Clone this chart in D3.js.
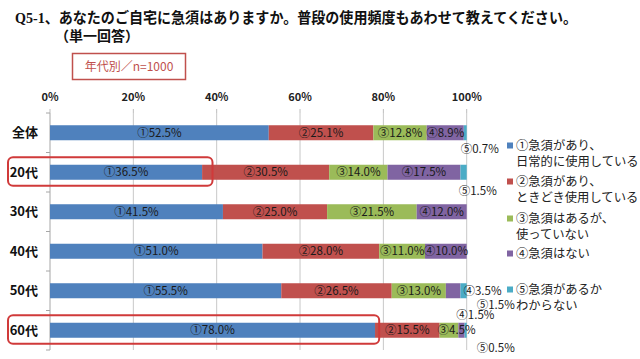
<!DOCTYPE html>
<html><head><meta charset="utf-8">
<script src="https://cdn.jsdelivr.net/npm/d3@7"></script>
<style>
html,body{margin:0;padding:0;background:#fff;}
svg{display:block;}
text{font-family:"Noto Sans CJK JP","Noto Sans",sans-serif;}
</style></head>
<body>
<svg id="chart" width="640" height="359"></svg>
<script>
// ---- data ----
const categories = ["全体", "20代", "30代", "40代", "50代", "60代"];
const seriesNames = ["①急須があり、\n日常的に使用している", "②急須があり、\nときどき使用している", "③急須はあるが、\n使っていない", "④急須はない", "⑤急須があるか\nわからない"];
const seriesMarks = ["①", "②", "③", "④", "⑤"];
const s1 = [52.5, 36.5, 41.5, 51.0, 55.5, 78.0];
const s2 = [25.1, 30.5, 25.0, 28.0, 26.5, 15.5];
const s3 = [12.8, 14.0, 21.5, 11.0, 13.0, 4.5];
const s4 = [8.9, 17.5, 12.0, 10.0, 3.5, 1.5];
const s5 = [0.7, 1.5, 0, 0, 1.5, 0.5];
const tickValues = [0, 20, 40, 60, 80, 100];
const highlighted = ["20代", "60代"];
const titleLine1 = "Q5-1、あなたのご自宅に急須はありますか。普段の使用頻度もあわせて教えてください。";
const titleLine2 = "（単一回答）";
const noteText = "年代別／n=1000";

// ---- style / layout ----
const colors = ["#4F81BD", "#C0504D", "#9BBB59", "#8064A2", "#4BACC6"];
const series = [s1, s2, s3, s4, s5];
// placement of labels that do not fit inside their segment
const labelPlacement = {
  "全体|4": {anchor: "start", xRef: "end", dx: -6, yRef: "bottom", dy: 9},
  "20代|4": {anchor: "start", xRef: "end", dx: -8, yRef: "bottom", dy: 11},
  "50代|3": {anchor: "start", xRef: "end", dx: 3, yRef: "mid", dy: 0},
  "50代|4": {anchor: "start", xRef: "end", dx: 10, yRef: "bottom", dy: 7},
  "60代|2": {anchor: "start", xRef: "start", dx: -2, yRef: "mid", dy: 0},
  "60代|3": {anchor: "start", xRef: "start", dx: -2, yRef: "top", dy: -8},
  "60代|4": {anchor: "start", xRef: "end", dx: 10, yRef: "bottom", dy: 10}
};
const highlightRight = {"20代": 39, "60代": 79};

const svg = d3.select("#chart");
const x = d3.scaleLinear().domain([0, 100]).range([50, 466.7]);
const y = d3.scaleBand().domain(categories).range([113, 350]).paddingInner(0.62).paddingOuter(0.31);

// title
svg.append("text").attr("x", 15).attr("y", 23)
  .attr("font-size", 15).attr("font-weight", "bold").attr("fill", "#111")
  .style("font-family", "'Liberation Serif','Noto Sans CJK JP',serif")
  .attr("textLength", 562).attr("lengthAdjust", "spacingAndGlyphs")
  .text(titleLine1);
svg.append("text").attr("x", 55).attr("y", 41)
  .attr("font-size", 14).attr("font-weight", "bold").attr("fill", "#111")
  .style("font-family", "'Liberation Serif','Noto Sans CJK JP',serif")
  .text(titleLine2);

// note box
svg.append("rect").attr("x", 72.5).attr("y", 53.5).attr("width", 113).attr("height", 26)
  .attr("fill", "#fff").attr("stroke", "#C0504D").attr("stroke-width", 1.5);
svg.append("text").attr("x", 129).attr("y", 71).attr("text-anchor", "middle")
  .attr("font-size", 12).attr("fill", "#C0504D").text(noteText);

// grid
const step = y.step();
const rangeTop = 113, rangeBottom = 350;
svg.append("g").selectAll("line").data(tickValues.slice(1)).join("line")
  .attr("x1", d => x(d)).attr("x2", d => x(d))
  .attr("y1", rangeTop).attr("y2", rangeBottom)
  .attr("stroke", "#c8c8c8").attr("stroke-width", 1);
// top ticks
svg.append("g").selectAll("line").data(tickValues).join("line")
  .attr("x1", d => x(d)).attr("x2", d => x(d))
  .attr("y1", rangeTop - 4).attr("y2", rangeTop)
  .attr("stroke", "#bdbdbd");
// tick labels
svg.append("g").selectAll("text").data(tickValues).join("text")
  .attr("x", d => x(d)).attr("y", 101).attr("text-anchor", "middle")
  .attr("font-size", 11).attr("font-weight", "bold").attr("fill", "#222")
  .text(d => d + "%");

// left axis
svg.append("line").attr("x1", x(0)).attr("x2", x(0)).attr("y1", rangeTop).attr("y2", rangeBottom)
  .attr("stroke", "#a6a6a6");
const bounds = d3.range(categories.length + 1).map(i => rangeTop + i * step);
svg.append("g").selectAll("line").data(bounds).join("line")
  .attr("x1", x(0) - 4).attr("x2", x(0)).attr("y1", d => d).attr("y2", d => d)
  .attr("stroke", "#a6a6a6");

// category labels
svg.append("g").selectAll("text").data(categories).join("text")
  .attr("x", 38).attr("y", d => y(d) + y.bandwidth() / 2 + 4.5)
  .attr("text-anchor", "end").attr("font-size", 13).attr("font-weight", "bold").attr("fill", "#111")
  .text(d => d);

// stacked segments
const segs = [];
categories.forEach((c, ci) => {
  let acc = 0;
  series.forEach((s, si) => {
    const v = s[ci];
    segs.push({cat: c, si, v, x0: acc, x1: acc + v});
    acc += v;
  });
});
svg.append("g").selectAll("rect").data(segs.filter(d => d.v > 0)).join("rect")
  .attr("x", d => x(d.x0)).attr("width", d => x(d.x1) - x(d.x0))
  .attr("y", d => y(d.cat)).attr("height", y.bandwidth())
  .attr("fill", d => colors[d.si]);

// segment labels
svg.append("g").selectAll("text").data(segs.filter(d => d.v > 0)).join("text")
  .each(function(d) {
    const p = labelPlacement[d.cat + "|" + d.si];
    const top = y(d.cat), bw = y.bandwidth();
    let lx, ly, anchor;
    if (p) {
      lx = (p.xRef === "end" ? x(d.x1) : x(d.x0)) + p.dx;
      ly = (p.yRef === "top" ? top : p.yRef === "bottom" ? top + bw : top + bw / 2) + p.dy;
      anchor = p.anchor;
    } else {
      lx = (x(d.x0) + x(d.x1)) / 2; ly = top + bw / 2; anchor = "middle";
    }
    d3.select(this).attr("x", lx).attr("y", ly + 4.1).attr("text-anchor", anchor);
  })
  .attr("font-size", 11.5).attr("fill", "#1a1a1a")
  .text(d => seriesMarks[d.si] + d.v.toFixed(1) + "%");

// highlight boxes
svg.append("g").selectAll("rect").data(highlighted).join("rect")
  .attr("x", 8).attr("y", d => y(d) - 7.5)
  .attr("width", d => x(highlightRight[d]) - 8)
  .attr("height", y.bandwidth() + 13.5)
  .attr("rx", 5).attr("ry", 5)
  .attr("fill", "none").attr("stroke", "#D03A3A").attr("stroke-width", 2);

// legend
const legendY = [146, 182, 219, 254, 290];
const lg = svg.append("g").selectAll("g").data(seriesNames).join("g")
  .attr("transform", (d, i) => `translate(507,${legendY[i]})`);
lg.append("rect").attr("x", 0).attr("y", -3.5).attr("width", 6).attr("height", 6)
  .attr("fill", (d, i) => colors[i]);
lg.each(function(d) {
  const lines = d.split("\n");
  d3.select(this).selectAll("text").data(lines).join("text")
    .attr("x", 9).attr("y", (l, j) => j * 16 + 4.3)
    .attr("font-size", 12.3).attr("fill", "#222")
    .text(l => l);
});
</script>
</body></html>
